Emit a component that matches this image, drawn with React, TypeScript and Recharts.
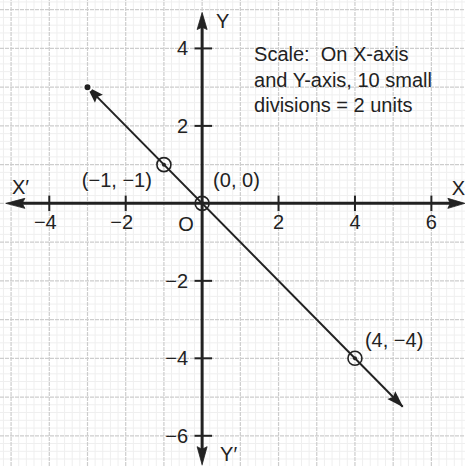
import React from "react";
import {
  ComposedChart,
  XAxis,
  YAxis,
  Line,
  Scatter,
  ReferenceLine,
  ReferenceDot,
} from "recharts";

// line y = -x, drawn between its two arrow tips
const lineEnds = [
  { x: -3, y: 3 },
  { x: 5.25, y: -5.25 },
];
const markedPoints = [
  { x: -1, y: 1 },
  { x: 0, y: 0 },
  { x: 4, y: -4 },
];
const pointLabels = ["(−1, −1)", "(0, 0)", "(4, −4)"];

const xTickValues = [-4, -2, 2, 4, 6];
const xTickLabels = ["−4", "−2", "2", "4", "6"];
const yTickValues = [4, 2, -2, -4, -6];
const yTickLabels = ["4", "2", "−2", "−4", "−6"];

const xAxisSpan = [-5.11, 6.85];
const yAxisSpan = [-6.72, 4.9];
const xDomain = [-5.29, 6.88];
const yDomain = [-6.78, 5.25];

const scaleNote = ["Scale:  On X-axis", "and Y-axis, 10 small", "divisions = 2 units"];

const range = (a: number, b: number, step: number) => {
  const out: number[] = [];
  for (let v = a; v <= b + 1e-9; v += step) out.push(Math.round(v * 100) / 100);
  return out;
};
const majorX = range(-5, 6, 1);
const majorY = range(-6, 5, 1);
const minorX = range(-5.2, 6.8, 0.2).filter((v) => !Number.isInteger(v));
const minorY = range(-6.6, 5.2, 0.2).filter((v) => !Number.isInteger(v));

const INK = "#222";
const FONT = "'Liberation Sans', Arial, sans-serif";

// label offsets in px, one per marked point
const pointLabelStyle = [
  { dx: -12, dy: 22, anchor: "end" },
  { dx: 11, dy: -16, anchor: "start" },
  { dx: 10, dy: -11, anchor: "start" },
];

// arrowhead with its tip at (cx, cy), pointing along `angle`
function Arrow({ cx, cy, angle, len = 17, half = 5.5 }: any) {
  return (
    <polygon
      points={`1,0 ${-len},${-half} ${-len * 0.85},0 ${-len},${half}`}
      transform={`translate(${cx},${cy}) rotate(${angle})`}
      fill={INK}
      stroke={INK}
      strokeWidth={0.8}
      strokeLinejoin="round"
    />
  );
}

function Ring(props: any) {
  const { cx, cy } = props;
  return (
    <g>
      <circle cx={cx} cy={cy} r={7} fill="none" stroke={INK} strokeWidth={1.6} />
      <circle cx={cx} cy={cy} r={2} fill={INK} />
    </g>
  );
}

const txt = { fontFamily: FONT, fontSize: 20, fill: INK } as const;

export default function App() {
  return (
    <div style={{ position: "absolute", left: 0, top: 0, width: 465, height: 466, background: "#fff" }}>
      <ComposedChart width={465} height={466} margin={{ top: 0, right: 0, bottom: 0, left: 0 }}>
        <defs>
          <marker
            id="lineArrow"
            viewBox="0 0 20 14"
            refX={19}
            refY={7}
            markerWidth={19}
            markerHeight={12}
            markerUnits="userSpaceOnUse"
            orient="auto-start-reverse"
          >
            <path d="M0,0.5 L20,7 L0,13.5 L3,7 Z" fill={INK} />
          </marker>
        </defs>
        <XAxis type="number" dataKey="x" domain={xDomain} allowDataOverflow hide />
        <YAxis type="number" dataKey="y" domain={yDomain} allowDataOverflow hide />

        {/* graph paper: small divisions, then unit lines */}
        {minorX.map((v) => (
          <ReferenceLine key={`mx${v}`} x={v} stroke="#efefef" strokeWidth={1} />
        ))}
        {minorY.map((v) => (
          <ReferenceLine key={`my${v}`} y={v} stroke="#efefef" strokeWidth={1} />
        ))}
        {majorX.map((v) => (
          <ReferenceLine key={`Mx${v}`} x={v} stroke="#cdcdcd" strokeWidth={1.2} strokeDasharray="4 1" />
        ))}
        {majorY.map((v) => (
          <ReferenceLine key={`My${v}`} y={v} stroke="#cdcdcd" strokeWidth={1.2} strokeDasharray="4 1" />
        ))}

        {/* coordinate axes */}
        <ReferenceLine
          segment={[{ x: xAxisSpan[0] + 0.2, y: 0 }, { x: xAxisSpan[1] - 0.2, y: 0 }]}
          stroke={INK}
          strokeWidth={3}
        />
        <ReferenceLine
          segment={[{ x: 0, y: yAxisSpan[0] + 0.2 }, { x: 0, y: yAxisSpan[1] - 0.2 }]}
          stroke={INK}
          strokeWidth={3}
        />
        <ReferenceDot x={xAxisSpan[0]} y={0} shape={(p: any) => <Arrow cx={p.cx} cy={p.cy} angle={180} len={18} half={5} />} />
        <ReferenceDot x={xAxisSpan[1]} y={0} shape={(p: any) => <Arrow cx={p.cx} cy={p.cy} angle={0} len={16} half={5} />} />
        <ReferenceDot x={0} y={yAxisSpan[1]} shape={(p: any) => <Arrow cx={p.cx} cy={p.cy} angle={-90} len={16} half={5} />} />
        <ReferenceDot x={0} y={yAxisSpan[0]} shape={(p: any) => <Arrow cx={p.cx} cy={p.cy} angle={90} len={17} half={5} />} />

        {xTickValues.map((v) => (
          <ReferenceLine key={`xt${v}`} segment={[{ x: v, y: -0.2 }, { x: v, y: 0.2 }]} stroke={INK} strokeWidth={2} />
        ))}
        {yTickValues.map((v) => (
          <ReferenceLine key={`yt${v}`} segment={[{ x: -0.2, y: v }, { x: 0.26, y: v }]} stroke={INK} strokeWidth={2} />
        ))}
        {xTickValues.map((v, i) => (
          <ReferenceDot
            key={`xl${v}`}
            x={v}
            y={0}
            shape={(p: any) => (
              <text x={p.cx + (v < 0 ? -4 : 0)} y={p.cy + 26} textAnchor="middle" {...txt}>
                {xTickLabels[i]}
              </text>
            )}
          />
        ))}
        {yTickValues.map((v, i) => (
          <ReferenceDot
            key={`yl${v}`}
            x={0}
            y={v}
            shape={(p: any) => (
              <text x={p.cx - 14} y={p.cy + 7} textAnchor="end" {...txt}>
                {yTickLabels[i]}
              </text>
            )}
          />
        ))}
        <ReferenceDot
          x={0}
          y={0}
          shape={(p: any) => (
            <text x={p.cx - 16} y={p.cy + 28} textAnchor="middle" {...txt}>
              O
            </text>
          )}
        />
        <ReferenceDot x={xAxisSpan[0]} y={0} shape={(p: any) => <text x={p.cx + 5} y={p.cy - 9} {...txt}>X′</text>} />
        <ReferenceDot x={xAxisSpan[1]} y={0} shape={(p: any) => <text x={p.cx - 12} y={p.cy - 8} {...txt}>X</text>} />
        <ReferenceDot x={0} y={yAxisSpan[1]} shape={(p: any) => <text x={p.cx + 14} y={p.cy + 14} {...txt}>Y</text>} />
        <ReferenceDot x={0} y={yAxisSpan[0]} shape={(p: any) => <text x={p.cx + 18} y={p.cy - 3} {...txt}>Y′</text>} />

        {/* the plotted line, arrowheads come from the path markers */}
        <Line
          data={lineEnds}
          dataKey="y"
          stroke={INK}
          strokeWidth={2}
          dot={false}
          markerStart="url(#lineArrow)"
          markerEnd="url(#lineArrow)"
          isAnimationActive={false}
        />

        <Scatter data={markedPoints} dataKey="y" shape={Ring} isAnimationActive={false} />
        {markedPoints.map((pt, i) => (
          <ReferenceDot
            key={`pl${i}`}
            x={pt.x}
            y={pt.y}
            shape={(p: any) => (
              <text
                x={p.cx + pointLabelStyle[i].dx}
                y={p.cy + pointLabelStyle[i].dy}
                textAnchor={pointLabelStyle[i].anchor as any}
                {...txt}
              >
                {pointLabels[i]}
              </text>
            )}
          />
        ))}

        <ReferenceDot
          x={1.36}
          y={3.67}
          shape={(p: any) => (
            <text x={p.cx} y={p.cy} {...txt}>
              {scaleNote.map((s, i) => (
                <tspan key={i} x={p.cx} dy={i === 0 ? 0 : 25.5} xmlSpace="preserve">
                  {s}
                </tspan>
              ))}
            </text>
          )}
        />
      </ComposedChart>
    </div>
  );
}
